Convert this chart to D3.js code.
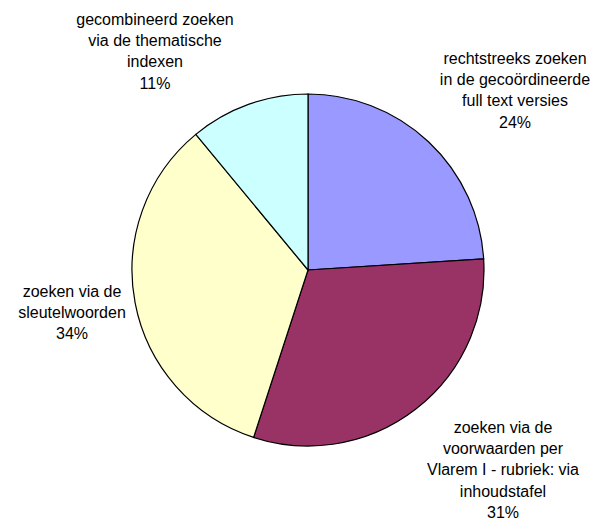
<!DOCTYPE html>
<html>
<head>
<meta charset="utf-8">
<script src="https://cdn.jsdelivr.net/npm/d3@7"></script>
<style>
  body { margin: 0; background: #fff; }
  text { font-family: "Liberation Sans", Arial, sans-serif; font-size: 16px; fill: #000; }
</style>
</head>
<body>
<div class="svg-target"></div>
<script>
const categories = [
    ['rechtstreeks zoeken', 'in de gecoördineerde', 'full text versies'],
    ['zoeken via de', 'voorwaarden per', 'Vlarem I - rubriek: via', 'inhoudstafel'],
    ['zoeken via de', 'sleutelwoorden'],
    ['gecombineerd zoeken', 'via de thematische', 'indexen']
];
const values = [24, 31, 34, 11];
const colors = ['#9999ff', '#993366', '#ffffcc', '#ccffff'];

const w = 598;
const h = 520;
const cx = 308;
const cy = 270;
const radius = 176;
const lineH = 21.2;

// label block positions (x centre, first line baseline), placed like the original
const labelAt = [
    [515, 64],
    [503, 433],
    [72, 297],
    [155, 25]
];

const data = values.map((v, i) => ({ value: v, lines: categories[i], color: colors[i] }));

const svg = d3.select('.svg-target')
    .append('svg')
    .attr('width', w)
    .attr('height', h);

const pie = d3.pie()
    .value(d => d.value)
    .sort(null);

const arc = d3.arc()
    .innerRadius(0)
    .outerRadius(radius);

const g = svg.append('g')
    .attr('transform', `translate(${cx}, ${cy})`);

g.selectAll('path')
    .data(pie(data))
    .enter()
    .append('path')
        .attr('d', arc)
        .attr('fill', d => d.data.color)
        .attr('stroke', '#000')
        .attr('stroke-width', 1.2);

// Labels
const labels = svg.selectAll('text.label')
    .data(pie(data))
    .enter()
    .append('text')
        .attr('class', 'label')
        .attr('text-anchor', 'middle')
        .attr('x', (d, i) => labelAt[i][0])
        .attr('y', (d, i) => labelAt[i][1]);

labels.each(function(d, i) {
    const t = d3.select(this);
    const lines = d.data.lines.concat([d.data.value + '%']);
    lines.forEach((l, j) => {
        t.append('tspan')
            .attr('x', labelAt[i][0])
            .attr('dy', j === 0 ? 0 : lineH)
            .text(l);
    });
});
</script>
</body>
</html>
